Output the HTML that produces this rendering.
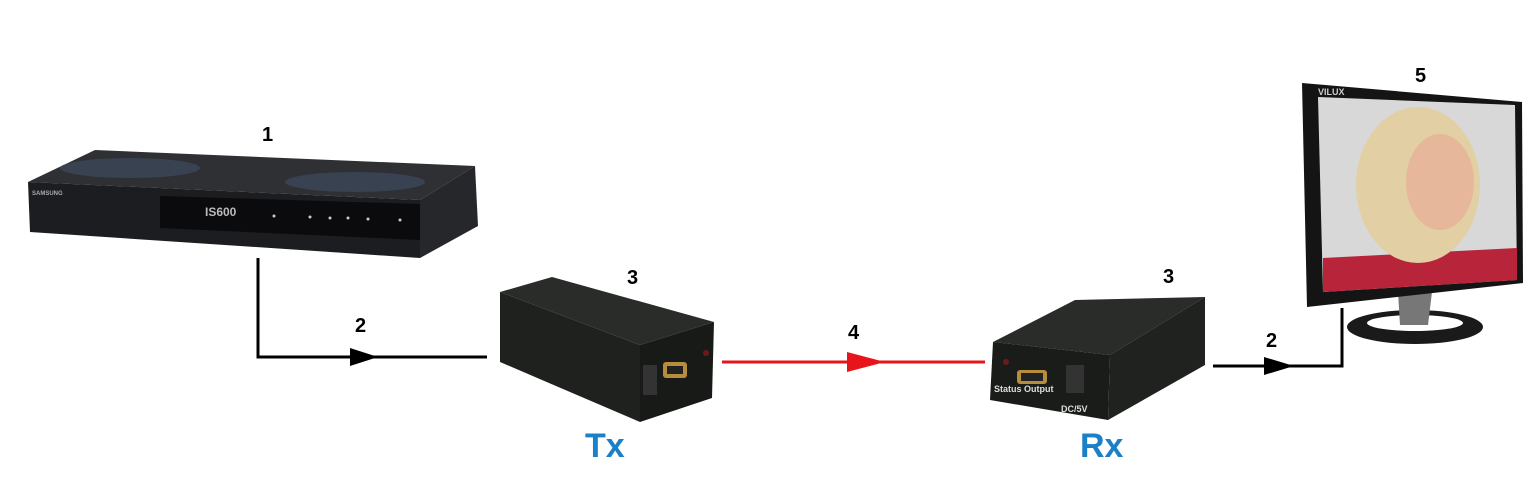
<!DOCTYPE html>
<html><head><meta charset="utf-8"><style>
html,body{margin:0;padding:0;background:#fff;}
svg{display:block;}
text{font-family:"Liberation Sans",sans-serif;font-weight:bold;}
</style></head><body>
<svg width="1540" height="499" viewBox="0 0 1540 499" xmlns="http://www.w3.org/2000/svg">
<rect width="1540" height="499" fill="#fff"/>
<!-- Set-top box -->
<polygon points="28,182 95,150 475,166 420,200" fill="#2e3034"/>
<ellipse cx="130" cy="168" rx="70" ry="10" fill="#3d4a5e" opacity="0.7"/>
<ellipse cx="355" cy="182" rx="70" ry="10" fill="#3d4a5e" opacity="0.7"/>
<polygon points="28,182 420,200 420,258 30,232" fill="#1c1d20"/>
<polygon points="160,196 420,204 420,240 160,228" fill="#0b0b0d"/>
<polygon points="420,200 475,166 478,226 420,258" fill="#26272b"/>
<text x="32" y="195" font-size="6" fill="#aaa" font-weight="normal">SAMSUNG</text>
<text x="205" y="216" font-size="12" fill="#bbb" font-weight="normal">IS600</text>
<g fill="#ccc"><circle cx="274" cy="216" r="1.5"/><circle cx="310" cy="217" r="1.5"/><circle cx="330" cy="218" r="1.5"/><circle cx="348" cy="218" r="1.5"/><circle cx="368" cy="219" r="1.5"/><circle cx="400" cy="220" r="1.5"/></g>
<!-- Tx box -->
<polygon points="500,292 552,277 714,322 640,345" fill="#2a2c2a"/>
<polygon points="500,292 640,345 640,422 500,362" fill="#1f211f"/>
<polygon points="640,345 714,322 712,398 640,422" fill="#181a18"/>
<rect x="663" y="362" width="24" height="16" rx="3" fill="#b58d3c"/>
<rect x="667" y="366" width="16" height="8" fill="#222"/>
<rect x="643" y="365" width="14" height="30" fill="#333"/>
<circle cx="706" cy="353" r="3" fill="#6b1a1a"/>
<!-- Rx box -->
<polygon points="993,342 1075,300 1205,297 1110,355" fill="#2a2c2a"/>
<polygon points="993,342 1110,355 1108,420 990,400" fill="#1a1c1a"/>
<polygon points="1110,355 1205,297 1205,365 1108,420" fill="#202220"/>
<rect x="1017" y="370" width="30" height="14" rx="3" fill="#b58d3c"/>
<rect x="1021" y="373" width="22" height="8" fill="#222"/>
<rect x="1066" y="365" width="18" height="28" fill="#333"/>
<circle cx="1006" cy="362" r="3" fill="#6b1a1a"/>
<text x="994" y="392" font-size="9" fill="#ddd">Status Output</text>
<text x="1061" y="412" font-size="9" fill="#ddd">DC/5V</text>
<!-- Monitor -->
<ellipse cx="1415" cy="327" rx="68" ry="17" fill="#1a1a1a"/>
<ellipse cx="1415" cy="323" rx="48" ry="8" fill="#fff"/>
<polygon points="1398,292 1432,292 1428,325 1400,325" fill="#777"/>
<polygon points="1302,83 1522,102 1523,283 1307,307" fill="#141414"/>
<polygon points="1318,97 1515,105 1517,280 1323,292" fill="#d8d8d8"/>
<polygon points="1323,258 1517,248 1517,280 1323,292" fill="#b8243a"/>
<ellipse cx="1418" cy="185" rx="62" ry="78" fill="#e2cfa4"/>
<ellipse cx="1440" cy="182" rx="34" ry="48" fill="#e6b79a"/>
<text x="1318" y="95" font-size="9" fill="#ccc" font-family="Liberation Serif">VILUX</text>
<!-- connectors -->
<g stroke="#000" stroke-width="3" fill="none">
<polyline points="258,258 258,357 487,357"/>
<polyline points="1213,366 1342,366 1342,308"/>
</g>
<polygon points="350,348 378,357 350,366" fill="#000"/>
<polygon points="1264,357 1294,366 1264,375" fill="#000"/>
<line x1="722" y1="362" x2="985" y2="362" stroke="#e8141c" stroke-width="3"/>
<polygon points="847,352 885,362 847,372" fill="#e8141c"/>
<!-- labels -->
<g font-size="20" fill="#000">
<text x="262" y="141">1</text>
<text x="355" y="332">2</text>
<text x="627" y="284">3</text>
<text x="848" y="339">4</text>
<text x="1163" y="283">3</text>
<text x="1266" y="347">2</text>
<text x="1415" y="82">5</text>
</g>
<g font-size="34" fill="#1a80c8">
<text x="585" y="457">Tx</text>
<text x="1080" y="457">Rx</text>
</g>
</svg>
</body></html>
